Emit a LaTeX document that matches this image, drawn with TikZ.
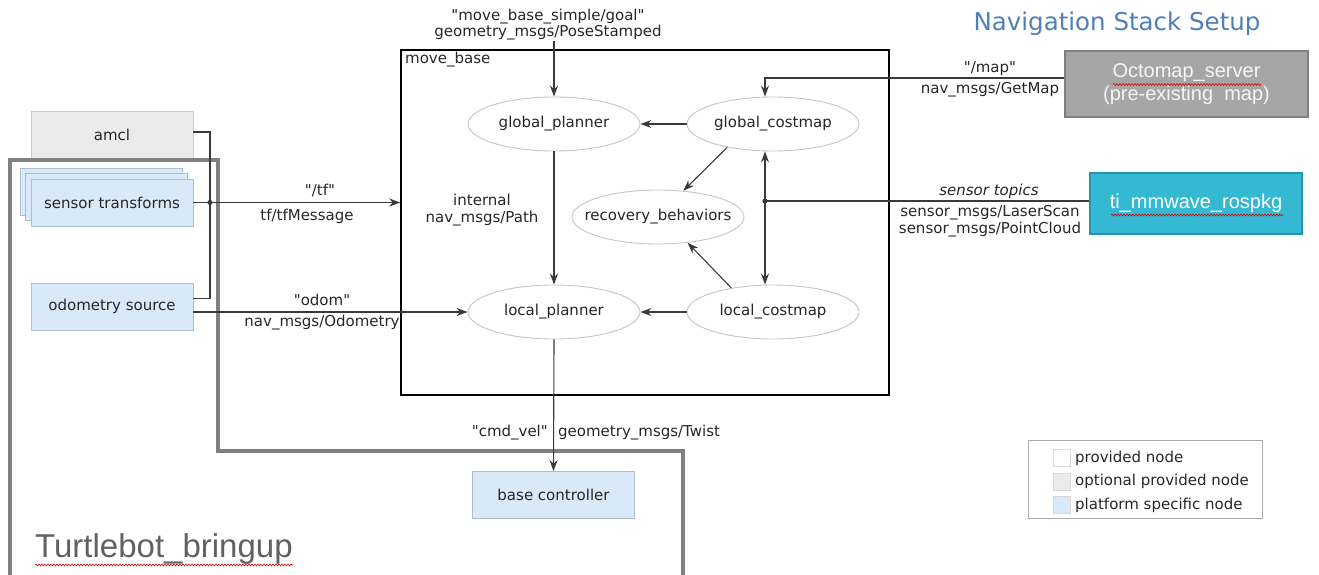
\documentclass[tikz,border=0pt]{standalone}
\usepackage{fontspec}
\setmainfont{DejaVu Sans}[Ligatures=TeXOff]
\newfontfamily\arialfont{Liberation Sans}[Ligatures=TeXOff]
\usetikzlibrary{shapes.geometric,arrows.meta,decorations.pathmorphing}

\definecolor{platform}{HTML}{DAE9F8}
\definecolor{platformline}{HTML}{A8BFD6}
\definecolor{optional}{HTML}{EBEBEB}
\definecolor{optionalline}{HTML}{CCCCCC}
\definecolor{ellipseline}{HTML}{C6C6C6}
\definecolor{wirecol}{HTML}{3A3A3A}
\definecolor{titleblue}{HTML}{4F7FB8}
\definecolor{octofill}{HTML}{A6A6A6}
\definecolor{octoline}{HTML}{7F7F7F}
\definecolor{tifill}{HTML}{35B8D2}
\definecolor{tiline}{HTML}{2593AC}
\definecolor{bringup}{HTML}{808080}
\definecolor{legendline}{HTML}{AAAAAA}

\begin{document}
\begin{tikzpicture}[x=1pt,y=-1pt,
  every node/.style={font=\fontsize{15}{17}\selectfont, text=black!85, inner sep=0pt},
  rosbox/.style={draw, rectangle, minimum width=162pt, minimum height=47pt, line width=0.8pt},
  platformbox/.style={rosbox, fill=platform, draw=platformline},
  optionalbox/.style={rosbox, fill=optional, draw=optionalline},
  rosnode/.style={draw=ellipseline, fill=white, ellipse, minimum width=172pt, minimum height=54pt, line width=0.9pt},
  wire/.style={draw=wirecol, line width=1.1pt},
  flow/.style={wire, -{Stealth[length=11pt,width=8pt]}},
  biflow/.style={wire, {Stealth[length=11pt,width=8pt]}-{Stealth[length=11pt,width=8pt]}},
  spell/.style={draw=red!85!black, line width=0.6pt, decorate, decoration={snake, amplitude=0.9pt, segment length=3pt}},
  msg/.style={align=center},
  swatch/.style={draw=black!15, minimum size=17pt, line width=0.6pt},
]
\useasboundingbox (0,0) rectangle (1319,575);

% title
\node[font=\fontsize{24.5}{28}\selectfont, text=titleblue] (title) at (1117,24) {Navigation Stack Setup};

% move_base container
\node[draw=black, line width=1.6pt, minimum width=488pt, minimum height=345pt] (mb) at (645,222.5) {};
\node[anchor=west] (mblabel) at (405,60) {move\_base};

% internal nodes of move_base
\node[rosnode] (gp) at (554,124) {global\_planner};
\node[rosnode] (gc) at (773,124) {global\_costmap};
\node[rosnode, inner xsep=-15pt] (rb) at (658,217) {recovery\_behaviors};
\node[rosnode] (lp) at (554,312) {local\_planner};
\node[rosnode] (lc) at (773,312) {local\_costmap};

% platform nodes
\node[optionalbox] (amcl) at (112,135) {amcl};
\node[platformbox] (st3) at (101,191.5) {};
\node[platformbox] (st2) at (106.5,197) {};
\node[platformbox] (sensor) at (112,202.5) {sensor transforms};
\node[platformbox] (odom) at (112,306.5) {odometry source};
\node[platformbox] (base) at (553.5,495) {base controller};

% external packages
\node[draw=octoline, fill=octofill, line width=2.8pt, minimum width=243pt, minimum height=66pt,
      align=center, font=\arialfont\fontsize{20}{23}\selectfont, text=white!96!black] (octo) at (1186.5,84)
      {Octomap\_server\\(pre-existing\ \ map)};
\node[draw=tiline, fill=tifill, line width=2.8pt, minimum width=212pt, minimum height=61pt,
      font=\arialfont\fontsize{20}{23}\selectfont, text=white] (ti) at (1196,203.5) {ti\_mmwave\_rospkg};

% Turtlebot_bringup group outline
\draw[draw=bringup, line width=3.6pt] (10,577) -- (10,160) -- (218,160) -- (218,451) -- (683,451) -- (683,577);
\node[anchor=base west, font=\arialfont\fontsize{33}{36}\selectfont, text=black!62] (bringuplabel) at (35,557) {Turtlebot\_bringup};

% spell-check underlines
\draw[spell] (1113,84.5) -- (1261,84.5);
\draw[spell] (1111,215) -- (1283,215);
\draw[spell] ([yshift=-8pt]bringuplabel.base west) -- ([yshift=-8pt]bringuplabel.base east);

% goal topic
\node[msg, font=\fontsize{15}{16}\selectfont] (goal) at (548,25) {"move\_base\_simple/goal"\\geometry\_msgs/PoseStamped};
\draw[flow] (gp.north |- goal.south) -- (gp.north);

% map topic
\coordinate (mapjoint) at (765,78);
\draw[flow] ([yshift=6pt]octo.west) -- (mapjoint) -- ([xshift=-8pt]gc.north);
\node (maptop) at (990,69) {"/map"};
\node (mapbot) at (990,90) {nav\_msgs/GetMap};

% planner and costmap links
\draw[flow] (gc.west) -- (gp.east);
\draw[flow] (lc.west) -- (lp.east);
\draw[flow] (gp.south) -- (lp.north);
\draw[flow] (gc.207) -- (rb.46);
\draw[flow] (lc.150) -- (rb.-41);
\draw[biflow] ([xshift=-8pt]gc.south) -- ([xshift=-8pt]lc.north);
\node[msg] (pathlbl) at (482,210) {internal\\nav\_msgs/Path};

% sensor topics
\coordinate (sdot) at (765,201);
\draw[wire] (ti.west |- sdot) -- (sdot);
\fill[wirecol] (sdot) circle (2.6pt);
\node[font=\itshape\fontsize{15}{17}\selectfont] (senstop) at (989,191) {sensor topics};
\node[msg] (sensmsg) at (990,221) {sensor\_msgs/LaserScan\\sensor\_msgs/PointCloud};

% tf topic
\coordinate (tfdot) at (210,202.5);
\draw[flow] (sensor.east) -- (sensor.east -| mb.west);
\draw[wire] ([yshift=3pt]amcl.east) -| (tfdot) |- ([yshift=8pt]odom.east);
\fill[wirecol] (tfdot) circle (2.6pt);
\node (tftop) at (320,190) {"/tf"};
\node (tfbot) at (307,216) {tf/tfMessage};

% odometry topic
\draw[flow] (lp.west -| odom.east) -- (lp.west);
\node (odomtop) at (322,300) {"odom"};
\node (odombot) at (322,323) {nav\_msgs/Odometry};

% velocity command
\draw[flow] (lp.south) -- (base.north);
\node[anchor=east] (cmdl) at (548,433) {"cmd\_vel"};
\node[anchor=west] (cmdr) at (558,433) {geometry\_msgs/Twist};

% legend
\node[draw=legendline, line width=0.7pt, minimum width=234pt, minimum height=78pt] (legend) at (1145,479) {};
\node[swatch, fill=white] (sw1) at (1061.5,458) {};
\node[swatch, fill=optional] (sw2) at (1061.5,481.5) {};
\node[swatch, fill=platform] (sw3) at (1061.5,505) {};
\node[anchor=west] (lg1) at (1075,458) {provided node};
\node[anchor=west] (lg2) at (1075,481.5) {optional provided node};
\node[anchor=west] (lg3) at (1075,505) {platform specific node};
\end{tikzpicture}
\end{document}
